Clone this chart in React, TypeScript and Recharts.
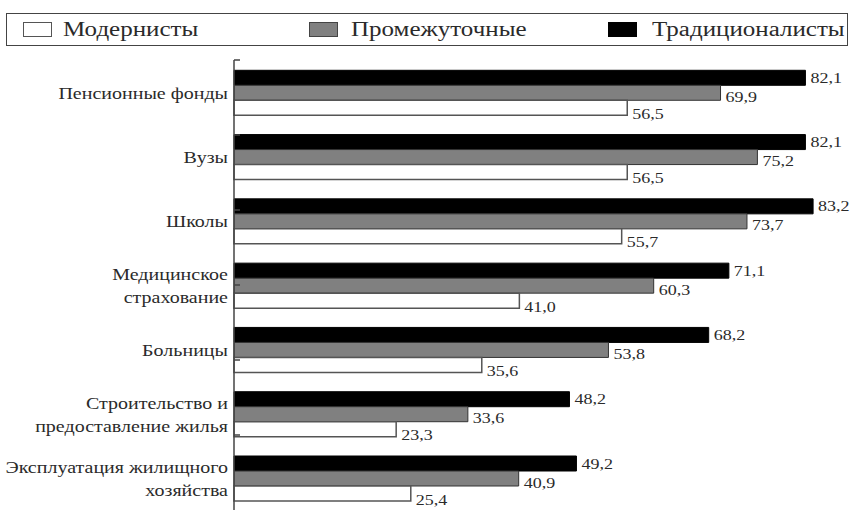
import React from "react";
import { BarChart, Bar, XAxis, YAxis, Legend, LabelList } from "recharts";

const categories: string[] = [
  "Пенсионные фонды",
  "Вузы",
  "Школы",
  "Медицинское\nстрахование",
  "Больницы",
  "Строительство и\nпредоставление жилья",
  "Эксплуатация жилищного\nхозяйства",
];
const traditionalists: number[] = [82.1, 82.1, 83.2, 71.1, 68.2, 48.2, 49.2];
const intermediate: number[] = [69.9, 75.2, 73.7, 60.3, 53.8, 33.6, 40.9];
const modernists: number[] = [56.5, 56.5, 55.7, 41.0, 35.6, 23.3, 25.4];
const boundaryTicks: number[] = [0, 1, 2, 3, 4, 5, 6, 7];

const seriesNames = {
  mod: "Модернисты",
  mid: "Промежуточные",
  trad: "Традиционалисты",
};

const data = categories.map((c, i) => ({
  name: c,
  trad: traditionalists[i],
  mid: intermediate[i],
  mod: modernists[i],
}));

const FONT = "Liberation Serif";
const TEXT = "#2a2a2a";
const SX = 1.25;

const CategoryTick = (props: any) => {
  const { x, y, payload } = props;
  const lines: string[] = String(payload.value).split("\n");
  const lh = 23;
  const start = -((lines.length - 1) * lh) / 2;
  return (
    <g transform={`translate(${x},${y + 1}) scale(${SX},1)`}>
      {lines.map((l, i) => (
        <text
          key={i}
          x={0}
          y={start + i * lh}
          dy={5.5}
          textAnchor="end"
          style={{ fontFamily: FONT, fontSize: 16 }}
          fill={TEXT}
        >
          {l}
        </text>
      ))}
    </g>
  );
};

const makeValueLabel = (dyExtra: number) => (props: any) => {
  const { x, y, width, height, value } = props;
  const tx = Number(x) + Number(width) + 5;
  const ty = Number(y) + Number(height) / 2 + dyExtra;
  return (
    <g transform={`translate(${tx},${ty}) scale(1.2,1)`}>
      <text x={0} y={0} dy={5} style={{ fontFamily: FONT, fontSize: 15 }} fill={TEXT}>
        {Number(value).toFixed(1).replace(".", ",")}
      </text>
    </g>
  );
};

const LegendBox = () => {
  const items = [
    { name: seriesNames.mod, fill: "#ffffff", stroke: "#555", box: 16, text: 56 },
    { name: seriesNames.mid, fill: "#808080", stroke: "#444", box: 302, text: 344 },
    { name: seriesNames.trad, fill: "#000000", stroke: "#000", box: 601, text: 645 },
  ];
  return (
    <div
      style={{
        position: "relative",
        width: 842,
        height: 33,
        border: "1.5px solid #444",
        boxSizing: "border-box",
        background: "#fff",
      }}
    >
      {items.map((it) => (
        <React.Fragment key={it.name}>
          <div
            style={{
              position: "absolute",
              left: it.box,
              top: 8,
              width: 29,
              height: 15,
              background: it.fill,
              border: `1.5px solid ${it.stroke}`,
              boxSizing: "border-box",
            }}
          />
          <div
            style={{
              position: "absolute",
              left: it.text,
              top: 3,
              fontFamily: FONT,
              fontSize: 20,
              lineHeight: "24px",
              color: TEXT,
              whiteSpace: "nowrap",
              transform: `scaleX(${SX})`,
              transformOrigin: "left center",
            }}
          >
            {it.name}
          </div>
        </React.Fragment>
      ))}
    </div>
  );
};

export default function App() {
  return (
    <div
      style={{
        position: "absolute",
        left: 0,
        top: 0,
        width: 854,
        height: 511,
        overflow: "hidden",
        background: "#fff",
        fontFamily: FONT,
      }}
    >
      <BarChart
        width={854}
        height={511}
        data={data}
        layout="vertical"
        margin={{ top: 60, right: 7.5, bottom: 1, left: 5 }}
        barCategoryGap="16%"
        barGap={0}
        style={{ fontFamily: FONT }}
      >
        <XAxis type="number" domain={[0, 88]} hide />
        <YAxis
          yAxisId="cat"
          type="category"
          dataKey="name"
          width={229}
          tickLine={false}
          axisLine={false}
          tickSize={0}
          tickMargin={6}
          interval={0}
          tick={<CategoryTick />}
        />
        <YAxis
          yAxisId="num"
          type="number"
          domain={[0, 7]}
          ticks={boundaryTicks}
          allowDataOverflow
          mirror
          tickSize={6}
          tickFormatter={() => ""}
          axisLine={{ stroke: "#444", strokeWidth: 1.5 }}
          tickLine={{ stroke: "#444", strokeWidth: 1.5 }}
        />
        <Legend
          layout="horizontal"
          verticalAlign="middle"
          align="center"
          wrapperStyle={{ top: 13, left: 6, width: 842, height: 33 }}
          content={() => <LegendBox />}
        />
        <Bar
          yAxisId="cat"
          dataKey="trad"
          name={seriesNames.trad}
          fill="#000"
          stroke="#000"
          strokeWidth={1}
          isAnimationActive={false}
        >
          <LabelList dataKey="trad" content={makeValueLabel(0)} />
        </Bar>
        <Bar
          yAxisId="cat"
          dataKey="mid"
          name={seriesNames.mid}
          fill="#808080"
          stroke="#333"
          strokeWidth={1}
          isAnimationActive={false}
        >
          <LabelList dataKey="mid" content={makeValueLabel(4)} />
        </Bar>
        <Bar
          yAxisId="cat"
          dataKey="mod"
          name={seriesNames.mod}
          fill="#fff"
          stroke="#555"
          strokeWidth={1.5}
          isAnimationActive={false}
        >
          <LabelList dataKey="mod" content={makeValueLabel(6)} />
        </Bar>
      </BarChart>
    </div>
  );
}
